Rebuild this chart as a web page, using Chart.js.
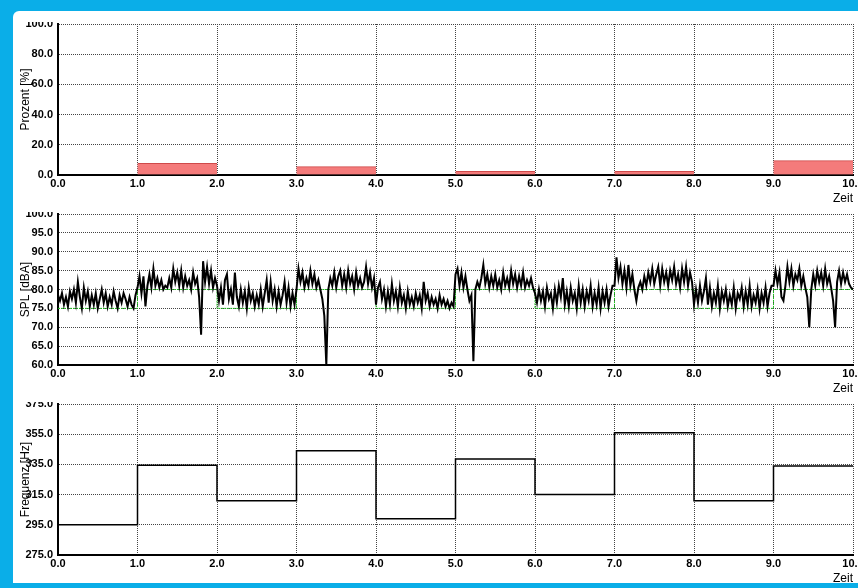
<!DOCTYPE html>
<html>
<head>
<meta charset="utf-8">
<script src="https://cdn.jsdelivr.net/npm/chart.js@4/dist/chart.umd.min.js"></script>
<style>
  body { margin: 0; width: 858px; height: 588px; background: #0aaee8; overflow: hidden; position: relative; }
  #frame { position: absolute; left: 13px; top: 11px; width: 845px; height: 572px; background: #fff; border-top-left-radius: 6px; }
  .panel { position: absolute; left: 13px; width: 845px; height: 184px; overflow: hidden; }
  .panel canvas { position: absolute; left: 0; top: -11px; }
</style>
</head>
<body>
<div id="frame"></div>
<div class="panel" style="top:22px"><canvas id="pctChart" width="880" height="205"></canvas></div>
<div class="panel" style="top:212px"><canvas id="splChart" width="880" height="205"></canvas></div>
<div class="panel" style="top:402px"><canvas id="freqChart" width="880" height="205"></canvas></div>
<script>
// Prozent: Balken jeweils von Start bis Start+1
const pctStart = [1, 3, 5, 7, 9];
const pctValue = [7.7, 5.5, 2.4, 2.4, 9.5];

// SPL Messwerte, Abtastung alle 0.025 Zeiteinheiten (0.0 .. 10.0)
const splStep = 0.025;
const splValues = [
  78.5,77.0,79.0,76.0,78.0,75.5,79.5,77.5,80.0,76.5, 82.0,78.0,75.0,80.5,77.0,79.5,75.5,78.5,76.0,79.0,
  75.0,77.5,80.0,76.5,79.0,75.5,78.0,76.0,79.5,77.0, 75.0,78.5,76.5,79.0,77.5,75.5,78.0,76.0,75.0,78.5,
  80.5,83.5,79.0,83.5,75.5,81.0,84.0,80.5,85.5,81.0, 83.0,80.5,82.5,80.0,81.0,80.5,83.0,80.5,85.5,82.0,
  84.5,81.0,85.0,80.5,83.5,81.0,82.5,80.0,84.5,81.5, 83.0,78.0,68.0,87.5,82.0,86.0,81.5,85.0,80.5,83.0,
  81.0,77.0,80.5,76.0,82.5,84.0,77.5,80.0,76.0,84.5, 78.0,75.5,80.0,76.5,79.5,75.0,80.5,77.0,79.0,75.5,
  78.5,76.0,80.0,75.5,79.0,82.5,76.5,82.0,77.0,80.0, 75.5,79.5,76.0,78.5,82.0,76.5,80.5,75.5,79.0,76.0,
  80.0,85.5,82.0,84.5,80.5,83.0,81.0,85.0,81.5,84.0, 80.5,82.5,80.0,77.5,73.0,60.0,80.0,83.0,81.0,84.5,
  80.5,83.5,85.0,81.0,84.0,80.5,85.0,81.5,83.5,80.0, 84.5,81.0,83.0,80.5,82.0,86.0,81.5,84.5,80.5,83.0,
  76.0,80.5,82.0,77.5,80.0,75.5,79.5,76.0,81.5,77.0, 79.5,75.5,80.5,76.5,78.5,75.0,79.5,76.0,78.0,75.5,
  79.0,76.5,78.5,75.0,82.0,77.0,79.0,75.5,78.0,76.0, 77.5,75.0,78.5,76.0,77.5,75.5,77.0,75.0,76.5,75.5,
  84.0,85.5,81.0,84.5,80.5,83.5,80.0,77.0,78.5,61.0, 80.0,82.0,80.5,83.0,86.5,81.5,84.0,80.5,83.5,81.0,
  84.0,80.5,82.5,80.0,84.5,81.0,83.0,80.5,85.0,81.5, 84.0,80.5,83.5,81.0,84.5,80.5,82.5,81.0,83.0,80.5,
  79.0,76.5,80.0,77.0,79.5,75.5,80.5,77.5,79.0,75.0, 80.0,76.5,81.0,78.0,83.0,76.0,79.5,75.5,80.5,77.0,
  79.0,75.0,81.0,76.5,80.0,75.5,79.5,77.0,81.0,75.5, 79.0,76.0,80.5,75.0,79.5,76.5,80.0,75.5,78.5,81.0,
  81.0,88.5,83.0,86.0,81.5,85.0,80.5,86.5,81.0,84.0, 80.0,77.0,80.5,82.0,80.0,83.5,81.0,84.5,82.0,85.5,
  81.5,84.0,86.0,81.0,85.5,82.0,84.5,81.0,85.0,82.5, 86.0,81.5,84.0,80.5,85.5,82.0,86.0,81.0,84.5,82.0,
  76.0,80.0,76.5,81.0,77.0,79.5,83.0,76.0,80.5,75.5, 79.0,76.5,81.0,75.0,79.5,77.0,80.0,75.5,78.5,76.0,
  80.5,75.0,79.0,77.5,80.5,75.5,79.5,76.0,81.0,75.5, 78.5,76.5,80.0,75.0,79.0,76.5,80.5,75.5,79.0,81.0,
  81.0,85.0,81.5,84.5,78.0,77.0,81.0,86.0,82.0,85.5, 81.0,84.0,82.5,85.5,81.0,83.5,80.5,78.0,70.0,80.0,
  84.0,81.0,85.0,82.0,84.5,81.0,85.5,81.5,83.5,80.5, 77.0,70.0,82.0,85.0,81.5,84.5,82.0,84.0,81.5,80.5,
  80.0
];

// Grenzwert (gruen), Wert gilt ab dem jeweiligen Zeitpunkt
const limitTimes = [0, 1, 2, 3, 4, 5, 6, 7, 8, 9, 10];
const limitValues = [75, 80, 75, 80, 75, 80, 75, 80, 75, 80, 80];

// Frequenz, Wert gilt ab dem jeweiligen Zeitpunkt
const freqTimes = [0, 1, 2, 3, 4, 5, 6, 7, 8, 9, 10];
const freqValues = [295, 334.5, 311, 344, 299, 338.5, 315, 356, 311, 334, 334];

const FONT = 'Arial, "Liberation Sans", sans-serif';
Chart.defaults.font.family = FONT;
Chart.defaults.color = '#000';

const tickFont = { family: FONT, size: 11, weight: 'bold' };
const titleFont = { family: FONT, size: 12 };

function scales(min, max, step, title) {
    return {
        x: {
            type: 'linear', min: 0, max: 10, offset: false,
            ticks: { stepSize: 1, autoSkip: false, maxRotation: 0, padding: 2, font: tickFont, color: '#000',
                     callback: v => v.toFixed(1) },
            grid: { color: '#444', drawTicks: false, offset: false },
            border: { display: true, color: '#000', width: 2, dash: [1, 1] },
            title: { display: true, text: 'Zeit', align: 'end', padding: 0, font: titleFont, color: '#000' },
            afterFit: s => { s.height = 31; }
        },
        y: {
            min: min, max: max,
            ticks: { stepSize: step, padding: 5, font: tickFont, color: '#000',
                     callback: v => v.toFixed(1) },
            grid: { color: '#444', drawTicks: false },
            border: { display: true, color: '#000', width: 2, dash: [1, 1] },
            title: { display: true, text: title, padding: { top: 5, bottom: 0 }, font: titleFont, color: '#000' },
            afterFit: s => { s.width = 45; }
        }
    };
}

function baseOptions(min, max, step, title) {
    return {
        responsive: false,
        animation: false,
        layout: { padding: { top: 13, left: 0, right: 40, bottom: 10 } },
        plugins: { legend: { display: false }, tooltip: { enabled: false } },
        scales: scales(min, max, step, title)
    };
}

new Chart(document.getElementById('pctChart'), {
    type: 'bar',
    data: {
        datasets: [{
            data: pctStart.map((s, i) => ({ x: s + 0.5, y: pctValue[i] })),
            backgroundColor: '#f47b7b',
            borderColor: '#cf4a4a',
            borderWidth: { top: 1, left: 0, right: 0, bottom: 0 },
            categoryPercentage: 1,
            barPercentage: 1
        }]
    },
    options: baseOptions(0, 100, 20, 'Prozent [%]')
});

new Chart(document.getElementById('splChart'), {
    type: 'line',
    data: {
        datasets: [{
            data: splValues.map((v, i) => ({ x: +(i * splStep).toFixed(3), y: v })),
            borderColor: '#000',
            borderWidth: 2,
            pointRadius: 0,
            tension: 0
        }, {
            data: limitTimes.map((t, i) => ({ x: t, y: limitValues[i] })),
            borderColor: '#1fbf1f',
            borderWidth: 1,
            borderDash: [2, 1],
            stepped: 'before',
            pointRadius: 0
        }]
    },
    options: baseOptions(60, 100, 5, 'SPL [dBA]')
});

new Chart(document.getElementById('freqChart'), {
    type: 'line',
    data: {
        datasets: [{
            data: freqTimes.map((t, i) => ({ x: t, y: freqValues[i] })),
            borderColor: '#000',
            borderWidth: 1.5,
            stepped: 'before',
            pointRadius: 0
        }]
    },
    options: baseOptions(275, 375, 20, 'Frequenz [Hz]')
});
</script>
</body>
</html>
